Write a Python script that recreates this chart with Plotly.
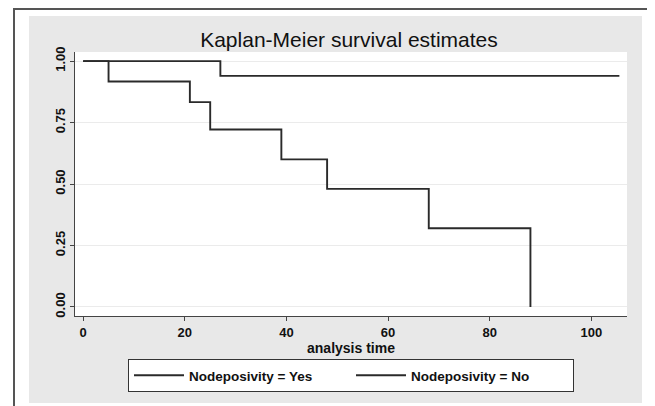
import plotly.graph_objects as go

# Kaplan-Meier step data
time_yes = [0, 5, 21, 25, 39, 48, 68, 88]
surv_yes = [1.0, 0.917, 0.833, 0.722, 0.60, 0.48, 0.32, 0.0]

time_no = [0, 27, 105.5]
surv_no = [1.0, 0.94, 0.94]

series_names = ["Nodeposivity = Yes", "Nodeposivity = No"]
x_ticks = [0, 20, 40, 60, 80, 100]
y_ticks = [0.0, 0.25, 0.5, 0.75, 1.0]

# page places the figure 8px from the window's top-left corner
OFF = 8
W, H = 655 - OFF, 406 - OFF
L, R, T, B = 75 - OFF, 28, 52 - OFF, 90
PW, PH = W - L - R, H - T - B


def px(xr):  # reference window x -> paper fraction
    return (xr - OFF - L) / PW


def py(yr):  # reference window y -> paper fraction
    return 1 - (yr - OFF - T) / PH


fig = go.Figure()
for name, xs, ys in [(series_names[0], time_yes, surv_yes), (series_names[1], time_no, surv_no)]:
    fig.add_trace(go.Scatter(x=xs, y=ys, mode="lines", name=name,
                             line=dict(color="#2a2a2a", width=1.9, shape="hv")))

txt = "#111111"
fig.update_layout(
    width=W, height=H,
    margin=dict(l=L, r=R, t=T, b=B, pad=0, autoexpand=False),
    paper_bgcolor="white",
    plot_bgcolor="white",
    font=dict(family="Liberation Sans, Arial", color=txt, size=12),
    title=dict(text="Kaplan-Meier survival estimates", x=(349 - OFF) / W, xanchor="center",
               y=1 - (40 - OFF) / H, yanchor="middle", yref="container",
               font=dict(size=21, color=txt)),
    showlegend=True,
    legend=dict(orientation="h", x=0.5, xanchor="center", y=py(359), yanchor="top",
                bgcolor="white", bordercolor="#333333", borderwidth=1,
                font=dict(size=13.5, color=txt, weight="bold"), itemwidth=50, entrywidth=157),
    xaxis=dict(range=[-1.6, 107], tickvals=x_ticks, showgrid=False, zeroline=False, automargin=False,
               showline=True, linecolor="#444444", linewidth=1.3,
               ticks="outside", ticklen=4, tickcolor="#444444",
               tickfont=dict(size=13, color=txt, weight="bold"),
               title=dict(text="analysis time", standoff=1, font=dict(size=14, color=txt, weight="bold"))),
    yaxis=dict(range=[-0.037, 1.037], tickvals=y_ticks, tickformat=".2f", tickangle=-90, automargin=False,
               showgrid=True, gridcolor="#ebebeb", gridwidth=1, zeroline=False,
               showline=True, linecolor="#444444", linewidth=1.3,
               ticks="outside", ticklen=4, tickcolor="#444444",
               tickfont=dict(size=13, color=txt, weight="bold")),
    shapes=[
        # light gray graph region
        dict(type="rect", xref="paper", yref="paper", layer="below",
             x0=px(29), x1=px(642), y0=py(403), y1=py(16),
             fillcolor="#e8e8e8", line=dict(width=0)),
        # white plot region
        dict(type="rect", xref="paper", yref="paper", layer="below",
             x0=0, x1=1, y0=0, y1=1, fillcolor="white", line=dict(width=0)),
        # outer frame (cropped by the window)
        dict(type="rect", xref="paper", yref="paper", layer="below",
             x0=px(14), x1=px(670), y0=py(420), y1=py(9),
             fillcolor="rgba(0,0,0,0)", line=dict(color="#555555", width=2)),
    ],
)

fig.write_html("out.html")
